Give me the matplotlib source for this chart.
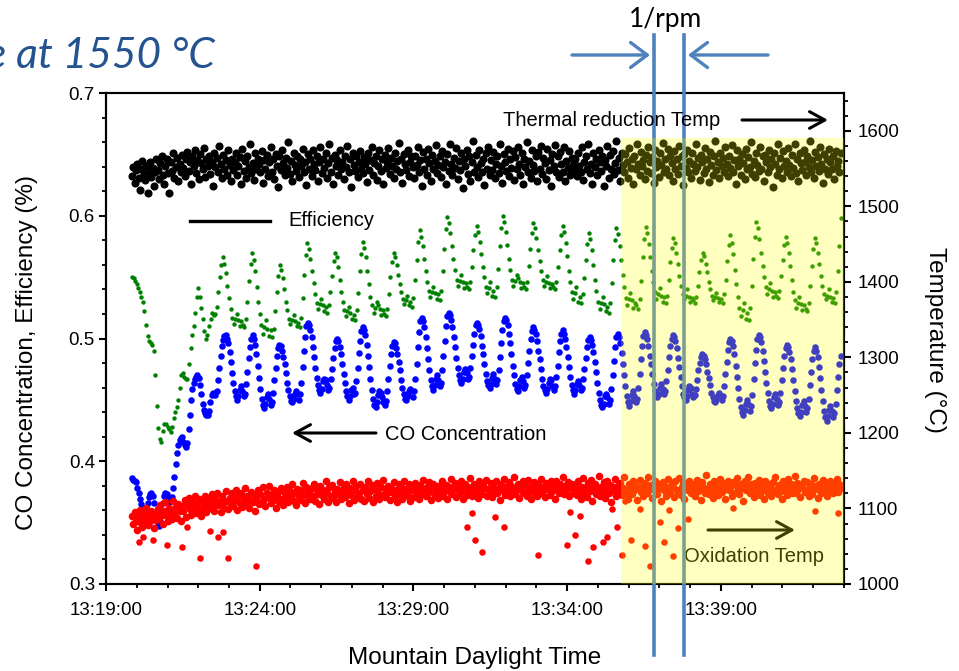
import numpy as np
import matplotlib
matplotlib.use("Agg")
import matplotlib.pyplot as plt
from matplotlib.patches import Rectangle, FancyArrowPatch
from matplotlib.ticker import MultipleLocator, FormatStrFormatter

plt.rcParams['font.family'] = ['Liberation Sans', 'DejaVu Sans']

# ---------------- data (time in minutes after 13:19:00) ----------------
co_start_min = 0.85
co_step_min = 2.5 / 60.0     # one CO reading every 2.5 s
eff_start_min = 0.85
eff_step_min = 3.0 / 60.0    # one efficiency reading every 3 s
temp_start_min = 0.85
temp_step_min = 2.5 / 60.0   # one temperature reading every 2.5 s

co_conc = [
    0.386, 0.385, 0.384, 0.383, 0.378, 0.374, 0.369, 0.365, 0.362, 0.360,
    0.360, 0.362, 0.366, 0.371, 0.373, 0.374, 0.372, 0.366, 0.358, 0.352,
    0.348, 0.347, 0.351, 0.358, 0.366, 0.372, 0.374, 0.373, 0.370, 0.367,
    0.368, 0.371, 0.378, 0.387, 0.398, 0.407, 0.413, 0.417, 0.419, 0.420,
    0.416, 0.413, 0.412, 0.415, 0.426, 0.438, 0.450, 0.459, 0.464, 0.467,
    0.469, 0.470, 0.468, 0.462, 0.455, 0.447, 0.442, 0.439, 0.438, 0.438,
    0.441, 0.448, 0.454, 0.456, 0.455, 0.454, 0.457, 0.466, 0.476, 0.486,
    0.494, 0.499, 0.502,
    0.503, 0.500, 0.496, 0.489, 0.481, 0.472, 0.464, 0.457, 0.453, 0.450, 0.453, 0.458, 0.461, 0.457, 0.453, 0.455, 0.463, 0.473, 0.484, 0.493, 0.500,
    0.503, 0.500, 0.495, 0.487, 0.478, 0.468, 0.459, 0.451, 0.446, 0.443, 0.447, 0.452, 0.455, 0.451, 0.446, 0.448, 0.456, 0.466, 0.476, 0.486, 0.492,
    0.495, 0.494, 0.490, 0.485, 0.479, 0.472, 0.464, 0.458, 0.453, 0.449, 0.448, 0.451, 0.455, 0.457, 0.455, 0.450, 0.455, 0.464, 0.477, 0.490, 0.501, 0.510,
    0.513, 0.511, 0.507, 0.501, 0.493, 0.485, 0.476, 0.468, 0.462, 0.458, 0.456, 0.459, 0.465, 0.467, 0.466, 0.462, 0.458, 0.460, 0.467, 0.475, 0.484, 0.492, 0.498,
    0.500, 0.498, 0.493, 0.487, 0.479, 0.471, 0.464, 0.457, 0.453, 0.450, 0.453, 0.458, 0.460, 0.455, 0.456, 0.465, 0.476, 0.488, 0.498, 0.506,
    0.509, 0.507, 0.503, 0.495, 0.486, 0.477, 0.467, 0.458, 0.451, 0.446, 0.444, 0.448, 0.454, 0.457, 0.456, 0.452, 0.448, 0.446, 0.449, 0.457, 0.467, 0.478, 0.487, 0.494,
    0.497, 0.496, 0.492, 0.487, 0.481, 0.474, 0.466, 0.460, 0.455, 0.451, 0.450, 0.453, 0.457, 0.459, 0.457, 0.452, 0.457, 0.467, 0.479, 0.493, 0.505, 0.514,
    0.517, 0.514, 0.509, 0.501, 0.492, 0.483, 0.474, 0.466, 0.461, 0.458, 0.462, 0.467, 0.470, 0.466, 0.461, 0.464, 0.474, 0.486, 0.498, 0.510, 0.518,
    0.521, 0.519, 0.515, 0.509, 0.501, 0.493, 0.484, 0.476, 0.470, 0.466, 0.464, 0.467, 0.473, 0.475, 0.472, 0.467, 0.469, 0.476, 0.486, 0.495, 0.504, 0.511,
    0.513, 0.511, 0.508, 0.502, 0.494, 0.487, 0.479, 0.471, 0.465, 0.462, 0.460, 0.463, 0.468, 0.471, 0.467, 0.463, 0.466, 0.474, 0.485, 0.496, 0.507, 0.514,
    0.517, 0.515, 0.511, 0.504, 0.496, 0.487, 0.478, 0.470, 0.463, 0.459, 0.457, 0.461, 0.466, 0.469, 0.465, 0.460, 0.462, 0.470, 0.480, 0.490, 0.500, 0.506,
    0.509, 0.507, 0.504, 0.498, 0.490, 0.483, 0.475, 0.467, 0.461, 0.458, 0.456, 0.459, 0.464, 0.467, 0.466, 0.461, 0.458, 0.461, 0.469, 0.478, 0.489, 0.498, 0.504,
    0.507, 0.504, 0.500, 0.493, 0.485, 0.477, 0.469, 0.462, 0.458, 0.455, 0.458, 0.463, 0.465, 0.462, 0.458, 0.460, 0.467, 0.475, 0.484, 0.493, 0.499,
    0.501, 0.499, 0.495, 0.489, 0.481, 0.473, 0.464, 0.456, 0.450, 0.446, 0.444, 0.447, 0.453, 0.455, 0.452, 0.447, 0.450, 0.459, 0.470, 0.482, 0.493, 0.501,
    0.504, 0.501, 0.496, 0.488, 0.479, 0.470, 0.461, 0.453, 0.448, 0.445, 0.449, 0.454, 0.457, 0.453, 0.448, 0.451, 0.460, 0.471, 0.483, 0.494, 0.502,
    0.505, 0.503, 0.500, 0.494, 0.486, 0.479, 0.471, 0.463, 0.457, 0.454, 0.452, 0.455, 0.460, 0.463, 0.459, 0.455, 0.457, 0.465, 0.474, 0.485, 0.494, 0.500,
    0.503, 0.501, 0.498, 0.492, 0.484, 0.477, 0.469, 0.461, 0.455, 0.452, 0.450, 0.453, 0.458, 0.461, 0.460, 0.455, 0.452, 0.454, 0.459, 0.466, 0.474, 0.480, 0.485,
    0.487, 0.486, 0.483, 0.479, 0.473, 0.468, 0.462, 0.456, 0.452, 0.449, 0.448, 0.450, 0.454, 0.456, 0.453, 0.450, 0.453, 0.461, 0.471, 0.481, 0.491, 0.497,
    0.500, 0.498, 0.494, 0.487, 0.478, 0.469, 0.460, 0.451, 0.444, 0.440, 0.438, 0.442, 0.447, 0.450, 0.447, 0.441, 0.445, 0.454, 0.467, 0.480, 0.491, 0.500,
    0.503, 0.501, 0.497, 0.490, 0.482, 0.473, 0.464, 0.456, 0.449, 0.445, 0.443, 0.447, 0.452, 0.455, 0.451, 0.446, 0.448, 0.456, 0.466, 0.476, 0.486, 0.492,
    0.495, 0.493, 0.489, 0.483, 0.475, 0.466, 0.457, 0.449, 0.443, 0.439, 0.437, 0.440, 0.446, 0.449, 0.445, 0.440, 0.443, 0.451, 0.462, 0.473, 0.483, 0.490,
    0.493, 0.490, 0.485, 0.477, 0.468, 0.458, 0.449, 0.441, 0.436, 0.433, 0.437, 0.442, 0.445, 0.441, 0.436, 0.439, 0.447, 0.458, 0.469, 0.479, 0.486,
]

efficiency = [
    0.550, 0.549, 0.547, 0.544, 0.541, 0.538, 0.534, 0.530, 0.522, 0.511,
    0.502, 0.498, 0.496, 0.495, 0.490, 0.470, 0.445, 0.427, 0.418, 0.416,
    0.425, 0.430, 0.430, 0.428, 0.426, 0.424, 0.428, 0.435, 0.440, 0.444,
    0.450, 0.460, 0.470, 0.472, 0.469, 0.467, 0.467, 0.479, 0.492, 0.503,
    0.510, 0.521, 0.534, 0.541, 0.534, 0.525, 0.516, 0.506, 0.500, 0.503,
    0.510, 0.516, 0.521, 0.519, 0.520, 0.526, 0.538, 0.550, 0.560,
    0.566, 0.561, 0.553, 0.543, 0.533, 0.524, 0.517, 0.512, 0.516, 0.520, 0.515, 0.510, 0.514, 0.511, 0.509, 0.516, 0.530, 0.547, 0.561,
    0.570, 0.564, 0.555, 0.542, 0.530, 0.520, 0.511, 0.504, 0.509, 0.515, 0.508, 0.502, 0.507, 0.501, 0.508, 0.522, 0.538, 0.551,
    0.560, 0.556, 0.549, 0.540, 0.530, 0.523, 0.516, 0.512, 0.515, 0.519, 0.514, 0.510, 0.513, 0.509, 0.517, 0.533, 0.552, 0.568,
    0.578, 0.573, 0.565, 0.555, 0.545, 0.536, 0.529, 0.524, 0.528, 0.532, 0.527, 0.522, 0.526, 0.521, 0.527, 0.538, 0.551, 0.563,
    0.570, 0.566, 0.558, 0.548, 0.538, 0.530, 0.523, 0.518, 0.522, 0.526, 0.521, 0.516, 0.519, 0.515, 0.523, 0.537, 0.555, 0.569,
    0.579, 0.574, 0.566, 0.555, 0.544, 0.534, 0.527, 0.521, 0.525, 0.530, 0.527, 0.524, 0.519, 0.523, 0.520, 0.518, 0.524, 0.536, 0.550, 0.562,
    0.570, 0.566, 0.560, 0.552, 0.544, 0.538, 0.532, 0.528, 0.531, 0.535, 0.527, 0.530, 0.526, 0.533, 0.548, 0.564, 0.579,
    0.588, 0.583, 0.575, 0.565, 0.555, 0.546, 0.539, 0.534, 0.538, 0.542, 0.537, 0.532, 0.536, 0.531, 0.539, 0.555, 0.573, 0.589,
    0.599, 0.594, 0.586, 0.575, 0.565, 0.556, 0.548, 0.543, 0.547, 0.552, 0.546, 0.541, 0.545, 0.542, 0.540, 0.546, 0.558, 0.572, 0.584,
    0.592, 0.587, 0.579, 0.569, 0.558, 0.550, 0.542, 0.537, 0.541, 0.546, 0.535, 0.539, 0.534, 0.542, 0.557, 0.575, 0.590,
    0.600, 0.595, 0.587, 0.576, 0.565, 0.556, 0.548, 0.543, 0.547, 0.552, 0.549, 0.546, 0.541, 0.545, 0.542, 0.540, 0.546, 0.559, 0.573, 0.586,
    0.594, 0.590, 0.582, 0.572, 0.563, 0.555, 0.548, 0.543, 0.546, 0.551, 0.545, 0.541, 0.544, 0.542, 0.540, 0.546, 0.558, 0.572, 0.584,
    0.592, 0.587, 0.578, 0.567, 0.555, 0.546, 0.538, 0.532, 0.537, 0.542, 0.530, 0.534, 0.529, 0.536, 0.549, 0.564, 0.577,
    0.586, 0.581, 0.572, 0.560, 0.548, 0.539, 0.530, 0.524, 0.529, 0.534, 0.528, 0.522, 0.526, 0.521, 0.529, 0.545, 0.564, 0.580,
    0.590, 0.585, 0.575, 0.564, 0.552, 0.542, 0.533, 0.527, 0.532, 0.537, 0.531, 0.525, 0.529, 0.527, 0.524, 0.532, 0.547, 0.566, 0.581,
    0.591, 0.586, 0.577, 0.566, 0.555, 0.546, 0.538, 0.532, 0.536, 0.541, 0.535, 0.530, 0.534, 0.529, 0.535, 0.548, 0.562, 0.574,
    0.582, 0.578, 0.570, 0.561, 0.551, 0.543, 0.536, 0.532, 0.535, 0.540, 0.534, 0.530, 0.533, 0.531, 0.529, 0.534, 0.543, 0.554, 0.564,
    0.570, 0.567, 0.561, 0.554, 0.546, 0.540, 0.535, 0.531, 0.534, 0.537, 0.533, 0.530, 0.532, 0.529, 0.536, 0.548, 0.563, 0.576,
    0.584, 0.578, 0.569, 0.556, 0.544, 0.534, 0.525, 0.518, 0.523, 0.529, 0.516, 0.521, 0.515, 0.525, 0.543, 0.565, 0.583,
    0.595, 0.590, 0.581, 0.570, 0.559, 0.550, 0.542, 0.536, 0.540, 0.545, 0.539, 0.534, 0.538, 0.535, 0.533, 0.539, 0.551, 0.564, 0.576,
    0.583, 0.578, 0.570, 0.559, 0.548, 0.538, 0.531, 0.525, 0.529, 0.534, 0.528, 0.523, 0.527, 0.524, 0.522, 0.529, 0.543, 0.559, 0.573,
    0.582, 0.578, 0.570, 0.561, 0.551, 0.543, 0.536, 0.532, 0.535, 0.540, 0.534, 0.530, 0.533, 0.529, 0.538, 0.555, 0.575, 0.598,
]

reduction_temp = [
    1540, 1552, 1531, 1548, 1556, 1537, 1522, 1549, 1560, 1543, 1535, 1554, 1518, 1547, 1558, 1539, 1551, 1527, 1545, 1562,
    1548, 1536, 1557, 1566, 1541, 1529, 1553, 1562, 1544, 1518, 1559, 1547, 1570, 1538, 1552, 1564, 1533, 1556, 1546, 1568,
    1551, 1540, 1563, 1572, 1547, 1558, 1530, 1566, 1553, 1575, 1544, 1561, 1536, 1569, 1557, 1549, 1577, 1539, 1562, 1554,
    1566, 1543, 1558, 1527, 1571, 1552, 1564, 1545, 1580, 1556, 1537, 1568, 1550, 1561, 1542, 1574, 1555, 1533, 1563, 1548,
    1559, 1570, 1541, 1553, 1565, 1529, 1576, 1547, 1560, 1538, 1567, 1552, 1582, 1544, 1557, 1535, 1571, 1549, 1563, 1556,
    1545, 1573, 1531, 1561, 1550, 1568, 1540, 1558, 1578, 1546, 1563, 1536, 1569, 1553, 1525, 1566, 1548, 1575, 1557, 1541,
    1564, 1551, 1585, 1543, 1560, 1534, 1571, 1555, 1547, 1567, 1539, 1562, 1553, 1576, 1545, 1558, 1528, 1569, 1550, 1563,
    1540, 1574, 1556, 1548, 1566, 1533, 1559, 1579, 1544, 1562, 1551, 1570, 1537, 1557, 1583, 1546, 1564, 1530, 1568, 1553,
    1561, 1542, 1575, 1549, 1558, 1536, 1567, 1552, 1580, 1545, 1563, 1526, 1571, 1555, 1547, 1566, 1539, 1559, 1573, 1550,
    1544, 1565, 1556, 1532, 1570, 1548, 1561, 1578, 1541, 1557, 1566, 1535, 1553, 1574, 1547, 1562, 1529, 1568, 1551, 1559,
    1577, 1543, 1564, 1554, 1538, 1571, 1549, 1560, 1584, 1546, 1563, 1531, 1569, 1556, 1548, 1575, 1540, 1558, 1566, 1552,
    1537, 1567, 1555, 1579, 1545, 1561, 1527, 1572, 1550, 1563, 1542, 1576, 1557, 1534, 1568, 1549, 1560, 1581, 1544, 1555,
    1566, 1539, 1573, 1552, 1558, 1530, 1569, 1547, 1582, 1556, 1541, 1564, 1551, 1577, 1536, 1560, 1548, 1571, 1524, 1562,
    1554, 1575, 1543, 1566, 1533, 1559, 1587, 1546, 1568, 1552, 1539, 1574, 1557, 1545, 1563, 1528, 1570, 1550, 1579, 1541,
    1561, 1548, 1572, 1537, 1556, 1566, 1544, 1583, 1553, 1531, 1569, 1558, 1547, 1576, 1540, 1562, 1551, 1573, 1535, 1565,
    1549, 1578, 1556, 1542, 1570, 1529, 1563, 1552, 1585, 1545, 1560, 1538, 1574, 1555, 1547, 1567, 1533, 1572, 1550, 1580,
    1543, 1564, 1557, 1536, 1576, 1548, 1561, 1527, 1569, 1553, 1581, 1545, 1566, 1539, 1572, 1556, 1546, 1578, 1534, 1560,
    1551, 1573, 1542, 1564, 1555, 1547,
    1562, 1540, 1571, 1553, 1546, 1578, 1535, 1559, 1567, 1549, 1583, 1544, 1556, 1530, 1570, 1552, 1563, 1541, 1575, 1558,
    1547, 1566, 1527, 1561, 1554, 1580, 1538, 1568, 1550, 1573, 1543, 1557, 1586, 1548, 1564, 1533, 1571, 1555, 1545, 1569,
    1559, 1537, 1577, 1551, 1563, 1529, 1566, 1549, 1582, 1556, 1542, 1572, 1553, 1561, 1536, 1568, 1547, 1579, 1558, 1544,
    1565, 1531, 1574, 1552, 1560, 1539, 1570, 1555, 1584, 1546, 1563, 1550, 1576, 1541, 1567, 1557, 1534, 1573, 1549, 1562,
    1543, 1580, 1554, 1566, 1528, 1569, 1551, 1575, 1545, 1560, 1538, 1571, 1556, 1547, 1583, 1552, 1564, 1535, 1568, 1558,
    1544, 1577, 1550, 1562, 1532, 1572, 1555, 1541, 1566, 1587, 1548, 1559, 1537, 1570, 1553, 1564, 1545, 1578, 1556, 1540,
    1567, 1551, 1581, 1546, 1561, 1530, 1574, 1554, 1563, 1542, 1569, 1557, 1536, 1576, 1549, 1565, 1552, 1585, 1543, 1560,
    1539, 1571, 1555, 1547, 1579, 1550, 1566, 1533, 1568, 1558, 1545, 1575, 1552, 1562, 1526, 1570, 1556, 1542, 1583, 1549,
    1564, 1537, 1573, 1553, 1560, 1546, 1577, 1555, 1540, 1568, 1551, 1582, 1544, 1563, 1534, 1571, 1557, 1548, 1575, 1559,
    1541, 1566, 1552, 1586, 1545, 1561, 1538, 1572, 1554, 1565, 1547, 1579, 1556, 1531, 1569, 1550, 1562, 1543, 1576, 1558,
    1549, 1567, 1536, 1573, 1553, 1560, 1545, 1570,
]

oxidation_temp = [
    1090, 1079, 1095, 1084, 1072, 1089, 1098, 1081, 1076, 1093, 1086, 1100, 1078, 1091, 1083, 1097, 1088, 1074, 1094, 1085,
    1099, 1087, 1104, 1092, 1080, 1097, 1108, 1090, 1083, 1101, 1095, 1086, 1110, 1093, 1102, 1088, 1106, 1097, 1084, 1103,
    1096, 1111, 1089, 1105, 1114, 1099, 1092, 1108, 1101, 1117, 1094, 1106, 1112, 1098, 1090, 1110, 1103, 1116, 1095, 1107,
    1113, 1100, 1119, 1106, 1097, 1112, 1121, 1104, 1109, 1095, 1117, 1108, 1101, 1123, 1110, 1099, 1114, 1106, 1120, 1103,
    1111, 1125, 1098, 1116, 1107, 1120, 1102, 1113, 1127, 1105, 1117, 1100, 1110, 1122, 1108, 1118, 1097, 1114, 1124, 1106,
    1119, 1109, 1128, 1112, 1103, 1121, 1115, 1130, 1107, 1118, 1111, 1125, 1101, 1116, 1122, 1109, 1127, 1113, 1104, 1120,
    1114, 1129, 1108, 1123, 1117, 1132, 1110, 1121, 1105, 1126, 1116, 1124, 1111, 1134, 1119, 1107, 1128, 1115, 1122, 1112,
    1127, 1116, 1133, 1110, 1124, 1119, 1106, 1130, 1118, 1125, 1113, 1136, 1121, 1109, 1128, 1117, 1131, 1114, 1123, 1108,
    1126, 1119, 1135, 1112, 1122, 1129, 1115, 1132, 1120, 1107, 1127, 1118, 1137, 1111, 1124, 1130, 1116, 1121, 1133, 1113,
    1125, 1110, 1128, 1119, 1136, 1114, 1123, 1131, 1108, 1126, 1117, 1134, 1121, 1112, 1129, 1118, 1138, 1115, 1124, 1120,
    1130, 1111, 1127, 1122, 1135, 1116, 1125, 1109, 1132, 1119, 1128, 1113, 1137, 1121, 1126, 1117, 1133, 1110, 1124, 1129,
    1115, 1134, 1122, 1127, 1112, 1131, 1119, 1138, 1125, 1116, 1129, 1121, 1135, 1111, 1126, 1132, 1118, 1124, 1130, 1114,
    1128, 1121, 1136, 1117, 1125, 1131, 1113, 1129, 1122, 1139, 1119, 1127, 1134, 1115, 1124, 1130, 1120, 1137, 1112, 1126,
    1132, 1118, 1128, 1123, 1140, 1116, 1125, 1133, 1121, 1129, 1114, 1136, 1124, 1119, 1131, 1127, 1138, 1117, 1126, 1122,
    1134, 1115, 1129, 1124, 1137, 1120, 1127, 1111, 1132, 1125, 1139, 1118, 1128, 1122, 1135, 1116, 1130, 1126, 1141, 1119,
    1127, 1133, 1114, 1129, 1123, 1136, 1120, 1131, 1117, 1138, 1125, 1112, 1130, 1122, 1135, 1128, 1116, 1133, 1124, 1139,
    1121, 1129, 1115, 1134, 1126, 1131, 1118, 1137, 1123, 1128, 1113, 1136, 1125, 1120, 1132, 1127, 1142, 1119, 1130, 1124,
    1135, 1117, 1128, 1133, 1121, 1126,
    1131, 1118, 1136, 1124, 1112, 1129, 1140, 1121, 1127, 1115, 1134, 1123, 1138, 1110, 1128, 1132, 1119, 1125, 1143, 1117,
    1129, 1122, 1135, 1114, 1126, 1137, 1120, 1131, 1109, 1128, 1124, 1139, 1116, 1130, 1123, 1134, 1118, 1127, 1141, 1121,
    1125, 1113, 1133, 1128, 1119, 1136, 1124, 1130, 1111, 1127, 1138, 1122, 1129, 1116, 1134, 1125, 1120, 1142, 1126, 1131,
    1114, 1128, 1137, 1123, 1119, 1133, 1127, 1110, 1135, 1124, 1130, 1117, 1139, 1126, 1121, 1132, 1128, 1115, 1136, 1125,
    1122, 1140, 1118, 1129, 1134, 1112, 1127, 1131, 1124, 1137, 1120, 1133, 1126, 1116, 1130, 1138, 1123, 1128, 1111, 1135,
    1127, 1121, 1144, 1125, 1119, 1132, 1129, 1114, 1136, 1123, 1131, 1118, 1127, 1139, 1122, 1134, 1126, 1113, 1130, 1137,
    1124, 1128, 1117, 1135, 1121, 1131, 1140, 1125, 1119, 1133, 1127, 1110, 1136, 1124, 1129, 1142, 1120, 1132, 1126, 1115,
    1134, 1122, 1128, 1138, 1118, 1130, 1125, 1112, 1137, 1127, 1121, 1133, 1129, 1116, 1135, 1124, 1141, 1126, 1119, 1131,
    1128, 1113, 1136, 1123, 1130, 1118, 1139, 1125, 1132, 1121, 1127, 1143, 1120, 1134, 1126, 1115, 1131, 1129, 1137, 1122,
    1124, 1135, 1117, 1128, 1133, 1119, 1140, 1126, 1130, 1114, 1132, 1127, 1121, 1138, 1125, 1129, 1116, 1134, 1123, 1136,
    1128, 1120, 1131, 1125, 1139, 1122, 1133, 1127,
]

# isolated low oxidation-temperature readings
oxid_outlier_min = [
    1.07, 1.20, 1.53, 1.98, 2.47, 2.63, 3.06, 3.38, 3.64, 3.80, 3.97, 4.88,
    11.74, 11.90, 12.00, 12.23, 12.65, 12.94, 14.05, 14.99, 15.09, 15.25,
    15.41, 15.67, 15.84, 16.16, 16.29, 16.46, 16.62, 16.78, 16.88, 17.07,
    17.37, 17.53, 17.69, 18.02, 18.15, 18.31, 18.44, 18.60, 18.93, 20.39,
    23.06, 23.80,
]
oxid_outlier_temp = [
    1056, 1062, 1058, 1052, 1049, 1076, 1034, 1070, 1062, 1069, 1034, 1024,
    1075, 1094, 1058, 1042, 1089, 1075, 1038, 1052, 1095, 1065,
    1090, 1030, 1049, 1056, 1062, 1099, 1075, 1038, 1110, 1058,
    1099, 1050, 1024, 1082, 1055, 1098, 1037, 1074, 1086, 1101,
    1097, 1094,
]

x_tick_min = [0, 5, 10, 15, 20]
x_tick_labels = ["13:19:00", "13:24:00", "13:29:00", "13:34:00", "13:39:00"]
left_ticks = [0.3, 0.4, 0.5, 0.6, 0.7]
right_ticks = [1000, 1100, 1200, 1300, 1400, 1500, 1600]
oxidation_zone_start_min = 16.75
oxidation_zone_top_temp = 1590
rotation_marks_min = [17.82, 18.80]

# ---------------- figure ----------------
W, H = 959, 671
fig = plt.figure(figsize=(W / 100, H / 100), dpi=100)
ax_l, ax_r, ax_t, ax_b = 106, 844, 93, 584
ax = fig.add_axes([ax_l / W, 1 - ax_b / H, (ax_r - ax_l) / W, (ax_b - ax_t) / H])
ax2 = ax.twinx()

co_t = co_start_min + co_step_min * np.arange(len(co_conc))
eff_t = eff_start_min + eff_step_min * np.arange(len(efficiency))
red_t = temp_start_min + temp_step_min * np.arange(len(reduction_temp))
ox_t = temp_start_min + temp_step_min * np.arange(len(oxidation_temp))

ax.scatter(eff_t, efficiency, s=10, c='#008000', linewidths=0, zorder=2)
ax.scatter(co_t, co_conc, s=22, c='#0000FF', linewidths=0, zorder=3)

ax2.scatter(red_t, reduction_temp, s=34, c='#000000', linewidths=0, zorder=2)
ax2.scatter(ox_t, oxidation_temp, s=30, c='#FF0000', linewidths=0, zorder=2)
ax2.scatter(oxid_outlier_min, oxid_outlier_temp, s=22, c='#FF0000', linewidths=0, zorder=2)

# axes setup
ax.set_xlim(0, 24)
ax.set_ylim(0.3, 0.7)
ax2.set_ylim(1000, 1650)
ax.set_xticks(x_tick_min)
ax.set_xticklabels(x_tick_labels)
ax.xaxis.set_minor_locator(MultipleLocator(1))
ax.set_yticks(left_ticks)
ax.yaxis.set_major_formatter(FormatStrFormatter('%.1f'))
ax.yaxis.set_minor_locator(MultipleLocator(0.02))
ax2.set_yticks(right_ticks)
ax2.yaxis.set_minor_locator(MultipleLocator(20))

for a in (ax, ax2):
    for s in a.spines.values():
        s.set_linewidth(1.5)
    a.tick_params(which='major', direction='out', length=5, width=1.5, labelsize=13.5)
    a.tick_params(which='minor', direction='out', length=3, width=1.3)
ax.tick_params(axis='x', which='major', pad=8)
ax.tick_params(axis='y', which='major', pad=3)
ax2.tick_params(axis='y', which='major', pad=5)

ax.set_xlabel("Mountain Daylight Time", fontsize=17.5)
ax.xaxis.set_label_coords(0.5, (ax_b - 658) / (ax_b - ax_t))
ax.xaxis.label.set_va('center')
ax.set_ylabel("CO Concentration, Efficiency (%)", fontsize=17.5)
ax.yaxis.set_label_coords((27 - ax_l) / (ax_r - ax_l), (ax_b - 352) / (ax_b - ax_t))
ax.yaxis.label.set_va('center')
ax2.set_ylabel("Temperature (°C)", fontsize=17.5, rotation=270)
ax2.yaxis.set_label_coords((935 - ax_l) / (ax_r - ax_l), (ax_b - 340) / (ax_b - ax_t))
ax2.yaxis.label.set_va('center')

# rotation-period marker lines (extend beyond the axes)
line_col = '#4F81BD'
yb = (ax_b - 655) / (ax_b - ax_t)
yt = (ax_b - 35) / (ax_b - ax_t)
for xm in rotation_marks_min:
    ax2.plot([xm, xm], [yb, yt], color=line_col, lw=2.6,
             transform=ax2.get_xaxis_transform(), clip_on=False, zorder=5)

# annotations
def axfrac(px, py):
    return ((px - ax_l) / (ax_r - ax_l), (ax_b - py) / (ax_b - ax_t))

arrow_kw = dict(arrowstyle='->, head_length=0.55, head_width=0.3', lw=2.2,
                color='black', mutation_scale=20, shrinkA=0, shrinkB=0)
ax2.text(*axfrac(503, 120), "Thermal reduction Temp", transform=ax2.transAxes,
         fontsize=14.5, ha='left', va='center', zorder=6)
ax2.annotate('', xy=axfrac(828, 120), xytext=axfrac(742, 120),
             xycoords='axes fraction', textcoords='axes fraction', arrowprops=arrow_kw)
ax2.plot([axfrac(190, 221)[0], axfrac(270, 221)[0]], [axfrac(190, 221)[1]] * 2,
         color='black', lw=2.4, transform=ax2.transAxes)
ax2.text(*axfrac(288, 221), "Efficiency", transform=ax2.transAxes,
         fontsize=14.5, ha='left', va='center')
ax2.annotate('', xy=axfrac(292, 433), xytext=axfrac(376, 433),
             xycoords='axes fraction', textcoords='axes fraction', arrowprops=arrow_kw)
ax2.text(*axfrac(385, 435), "CO Concentration", transform=ax2.transAxes,
         fontsize=14.5, ha='left', va='center')
ax2.annotate('', xy=axfrac(795, 530), xytext=axfrac(708, 530),
             xycoords='axes fraction', textcoords='axes fraction', arrowprops=arrow_kw)
ax2.text(*axfrac(684, 557), "Oxidation Temp", transform=ax2.transAxes,
         fontsize=14.5, ha='left', va='center')

# translucent yellow oxidation zone drawn over the data
ax2.add_patch(Rectangle((oxidation_zone_start_min, 1000), 24 - oxidation_zone_start_min,
                        oxidation_zone_top_temp - 1000, facecolor='#FFFF00',
                        alpha=0.25, edgecolor='none', zorder=10))
ax2.set_xlim(0, 24)

# 1/rpm header with arrows
fig.text(666 / W, 1 - 19 / H, "1/rpm", fontsize=19, family=['Lato', 'DejaVu Sans'],
         ha='center', va='center')
blue_arrow = dict(arrowstyle='->, head_length=0.6, head_width=0.45', lw=2.4,
                  color=line_col, mutation_scale=20, shrinkA=0, shrinkB=0)
fig.add_artist(FancyArrowPatch((572 / W, 1 - 55 / H), (650 / W, 1 - 55 / H),
                               transform=fig.transFigure, **blue_arrow))
fig.add_artist(FancyArrowPatch((768 / W, 1 - 55 / H), (688 / W, 1 - 55 / H),
                               transform=fig.transFigure, **blue_arrow))

# slide title fragment (cut by the left edge, as in the slide)
fig.text(-14 / W, 1 - 68 / H, "e at 1550 °C", fontsize=30.5, style='italic',
         family=['Lato', 'DejaVu Sans'], color='#24538F', ha='left', va='baseline')

fig.savefig("out.png", dpi=100)
